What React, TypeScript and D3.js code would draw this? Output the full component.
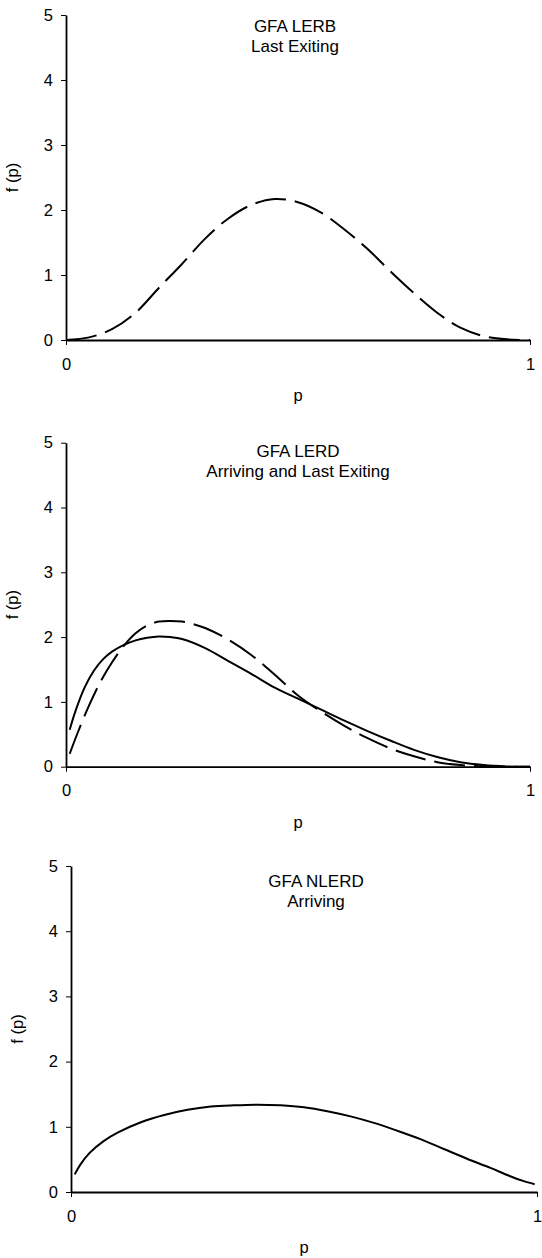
import * as d3 from 'd3';
import React, { useRef, useEffect } from 'react';

// panel titles
const titles = ['GFA LERB', 'GFA LERD', 'GFA NLERD'];
const subtitles = ['Last Exiting', 'Arriving and Last Exiting', 'Arriving'];
const yTicks = [0, 1, 2, 3, 4, 5];
const xTicks = [0, 1];

// GFA LERB, dashed
const lerbP = [0, 0.05, 0.1, 0.15, 0.2, 0.25, 0.3, 0.35, 0.4, 0.45, 0.5, 0.55, 0.6, 0.65, 0.7, 0.75, 0.8, 0.85, 0.9, 0.95, 1];
const lerbDashed = [0, 0.04, 0.17, 0.42, 0.8, 1.17, 1.56, 1.87, 2.08, 2.17, 2.12, 1.96, 1.7, 1.4, 1.05, 0.72, 0.42, 0.19, 0.06, 0.01, 0];

// GFA LERD, solid
const lerdSolidP = [0.008, 0.02, 0.04, 0.06, 0.08, 0.1, 0.125, 0.15, 0.175, 0.2, 0.225, 0.25, 0.3, 0.35, 0.4, 0.45, 0.5, 0.55, 0.6, 0.65, 0.7, 0.75, 0.8, 0.85, 0.9, 0.95, 1];
const lerdSolid = [0.57, 0.85, 1.22, 1.48, 1.66, 1.78, 1.88, 1.95, 1.99, 2.01, 2.0, 1.97, 1.83, 1.63, 1.43, 1.22, 1.05, 0.88, 0.71, 0.55, 0.4, 0.26, 0.15, 0.07, 0.025, 0.005, 0];

// GFA LERD, dashed
const lerdDashedP = [0.008, 0.025, 0.05, 0.075, 0.1, 0.125, 0.15, 0.175, 0.2, 0.225, 0.25, 0.275, 0.3, 0.35, 0.4, 0.45, 0.5, 0.55, 0.6, 0.65, 0.7, 0.75, 0.8, 0.85, 0.9, 0.95, 1];
const lerdDashed = [0.2, 0.52, 0.95, 1.32, 1.62, 1.87, 2.06, 2.18, 2.24, 2.25, 2.24, 2.2, 2.14, 1.96, 1.72, 1.42, 1.1, 0.85, 0.63, 0.44, 0.28, 0.16, 0.07, 0.025, 0.005, 0, 0];

// GFA NLERD, solid
const nlerdP = [0.008, 0.02, 0.04, 0.07, 0.1, 0.15, 0.2, 0.25, 0.3, 0.35, 0.4, 0.45, 0.5, 0.55, 0.6, 0.65, 0.7, 0.75, 0.8, 0.85, 0.9, 0.94, 0.97, 0.995];
const nlerdSolid = [0.27, 0.42, 0.6, 0.78, 0.91, 1.07, 1.18, 1.26, 1.31, 1.33, 1.34, 1.33, 1.3, 1.24, 1.16, 1.06, 0.94, 0.81, 0.66, 0.51, 0.37, 0.25, 0.17, 0.12];

const font = 'Liberation Sans, Arial, sans-serif';

const panels = [
  { x0: 66, x1: 530, yTop: 15, yBot: 340, titleX: 295, titleY: 32, series: [{ p: lerbP, v: lerbDashed, dash: true }] },
  { x0: 66, x1: 530, yTop: 442.7, yBot: 766.7, titleX: 298, titleY: 456.5, series: [{ p: lerdSolidP, v: lerdSolid, dash: false }, { p: lerdDashedP, v: lerdDashed, dash: true }] },
  { x0: 71, x1: 537, yTop: 866, yBot: 1192, titleX: 316, titleY: 886.5, series: [{ p: nlerdP, v: nlerdSolid, dash: false }] },
];

function Panel({ cfg, idx }) {
  const gx = useRef();
  const gy = useRef();
  const x = d3.scaleLinear().domain([0, 1]).range([cfg.x0, cfg.x1]);
  const y = d3.scaleLinear().domain([0, 5]).range([cfg.yBot, cfg.yTop]);

  useEffect(() => {
    const ya = d3.select(gy.current)
      .attr('transform', `translate(${cfg.x0},0)`)
      .call(d3.axisLeft(y).tickValues(yTicks).tickFormat(d3.format('d')).tickSize(5).tickSizeOuter(0).tickPadding(8));
    const xa = d3.select(gx.current)
      .attr('transform', `translate(0,${cfg.yBot})`)
      .call(d3.axisBottom(x).tickValues(xTicks).tickFormat(d3.format('d')).tickSize(5).tickSizeOuter(0).tickPadding(13));
    [ya, xa].forEach(a => {
      a.select('.domain').attr('stroke', '#000').attr('stroke-width', 1.8);
      a.selectAll('.tick line').attr('stroke', '#000').attr('stroke-width', 1);
      a.selectAll('.tick text').attr('font-size', 16.5).attr('font-family', font).attr('fill', '#000');
    });
  }, []);

  const line = d3.line().x(d => x(d[0])).y(d => y(d[1])).curve(d3.curveCatmullRom.alpha(0.5));
  const midY = (cfg.yTop + cfg.yBot) / 2;
  const midX = (cfg.x0 + cfg.x1) / 2;

  return (
    <g>
      {cfg.series.map((s, i) => (
        <path key={i} d={line(s.p.map((p, j) => [p, s.v[j]]))} fill="none" stroke="#000" strokeWidth={2}
          strokeDasharray={s.dash ? '31 9' : null} />
      ))}
      <g ref={gy} />
      <g ref={gx} />
      <text x={cfg.titleX} y={cfg.titleY} textAnchor="middle" fontSize={17} fontFamily={font}>{titles[idx]}</text>
      <text x={cfg.titleX} y={cfg.titleY + 20} textAnchor="middle" fontSize={17} fontFamily={font}>{subtitles[idx]}</text>
      <text transform={`translate(${cfg.x0 - 48},${midY}) rotate(-90)`} textAnchor="middle" fontSize={16.5} fontFamily={font}>f (p)</text>
      <text x={midX} y={cfg.yBot + 61} textAnchor="middle" fontSize={16.5} fontFamily={font}>p</text>
    </g>
  );
}

export default function App() {
  return (
    <svg width={542} height={1258} style={{ position: 'absolute', left: 0, top: 0, background: '#fff' }}>
      {panels.map((cfg, i) => <Panel key={i} cfg={cfg} idx={i} />)}
    </svg>
  );
}
